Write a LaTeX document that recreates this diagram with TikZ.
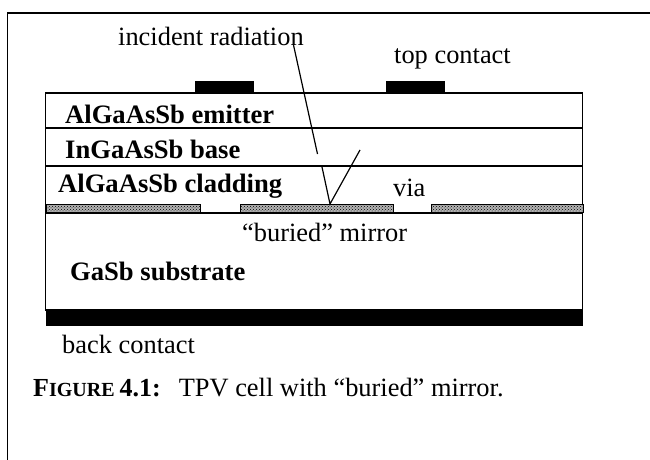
\documentclass[tikz,border=0pt]{standalone}
\usepackage{fontspec}
\setmainfont{Liberation Serif}
\usetikzlibrary{arrows.meta,calc,patterns,positioning}
\newcommand{\figcap}{{\bfseries\fontsize{26}{30}\selectfont F\fontsize{20}{30}\selectfont IGURE \fontsize{26}{30}\selectfont 4.1:}}
\begin{document}
\begin{tikzpicture}[x=1pt,y=-1pt,font=\fontsize{26.4}{30}\selectfont,
    layerbox/.style={draw,line width=1.2pt,minimum width=537pt,inner sep=0pt,outer sep=0pt},
    contactbox/.style={fill=black,minimum width=59pt,minimum height=12pt,inner sep=0pt,outer sep=0pt},
    mirrorbox/.style={draw,line width=.9pt,preaction={fill=black!30},pattern=crosshatch dots,pattern color=black,minimum height=8pt,inner sep=0pt,outer sep=0pt},
    boldlabel/.style={font=\bfseries\fontsize{26.6}{30}\selectfont,anchor=west,inner sep=0pt},
    plainlabel/.style={anchor=west,inner sep=0pt},
    ray/.style={line width=1.2pt}]
  \useasboundingbox (0,0) rectangle (650,460);
  % page frame, open to the right
  \coordinate (fbl) at (7.5,460);
  \coordinate (ftl) at (7.5,13);
  \coordinate (ftr) at (650,13);
  \draw[line width=1.3pt] (fbl)--(ftl)--(ftr);
  % layers
  \node[layerbox,minimum height=35pt] (emitter) at (314,110.5) {};
  \node[layerbox,minimum height=38pt,below=0pt of emitter] (base) {};
  \node[layerbox,minimum height=47pt,below=0pt of base] (cladding) {};
  \node[layerbox,minimum height=97pt,below=0pt of cladding] (substrate) {};
  \node[fill=black,minimum width=537pt,minimum height=16pt,inner sep=0pt,outer sep=0pt,below=0pt of substrate] (back) {};
  % contacts
  \node[contactbox] (topl) at (224.5,86.5) {};
  \node[contactbox] (topr) at (415.5,86.5) {};
  % mirror strips
  \node[mirrorbox,minimum width=154pt] (mirrorl) at (123,208) {};
  \node[mirrorbox,minimum width=153pt] (mirrorc) at (316.5,208) {};
  \node[mirrorbox,minimum width=152pt] (mirrorr) at (507,208) {};
  % labels
  \node[plainlabel] (incident) at (118,36) {incident radiation};
  \node[plainlabel] (toplabel) at (394,59) {top contact};
  \node[boldlabel] (emitterlabel) at (65,114) {AlGaAsSb emitter};
  \node[boldlabel] (baselabel) at (65,149) {InGaAsSb base};
  \node[boldlabel] (claddinglabel) at (58,186) {AlGaAsSb cladding};
  \node[plainlabel] (vialabel) at (393,188) {via};
  \node[plainlabel] (mirrorlabel) at (242,232) {``buried'' mirror};
  \node[boldlabel] (substratelabel) at (70,271) {GaSb substrate};
  \node[plainlabel] (backlabel) at (62,344) {back contact};
  \node[plainlabel] (caption) at (33,388) {\figcap{}\hspace{18pt}TPV cell with ``buried'' mirror.};
  % rays
  \coordinate (rayin) at (293.5,45);
  \coordinate (raygapa) at (317.5,154);
  \coordinate (raygapb) at (322,167);
  \coordinate (rayhit) at (330,204);
  \coordinate (rayout) at (360,150);
  \draw[ray] (rayin)--(raygapa);
  \draw[ray] (raygapb)--(rayhit)--(rayout);
\end{tikzpicture}
\end{document}
